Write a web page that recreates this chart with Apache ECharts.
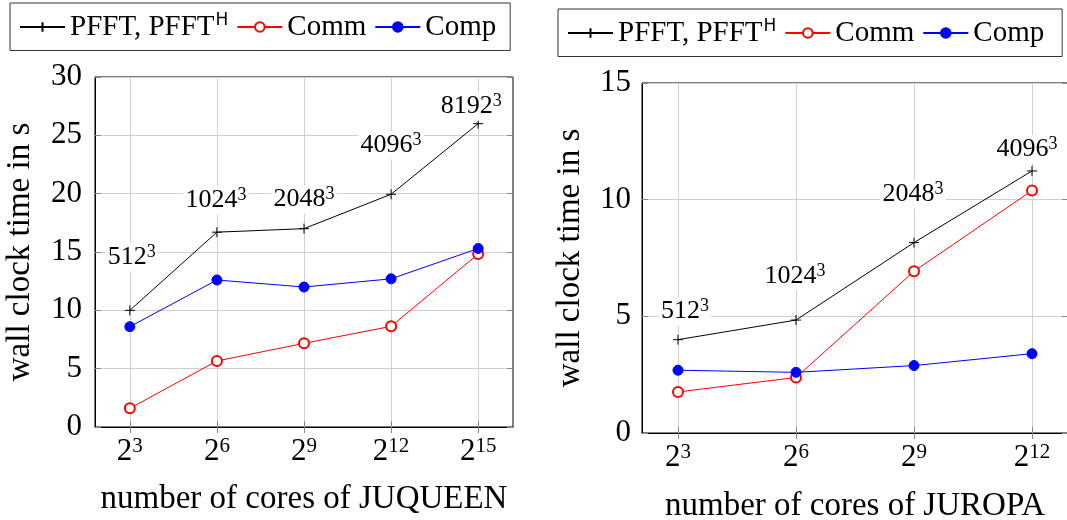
<!DOCTYPE html>
<html>
<head>
<meta charset="utf-8">
<script src="https://cdn.jsdelivr.net/npm/echarts@6/dist/echarts.min.js"></script>
<style>
  html, body { margin: 0; padding: 0; background: #fff; }
  #chart { width: 1067px; height: 520px; }
</style>
</head>
<body>
<div id="chart"></div>
<script>
// Wall clock times of the parallel FFT runs (log2 of core count on x)
const coresExpJuqueen = [3, 6, 9, 12, 15];
const pfftJuqueen = [10.0, 16.7, 17.0, 19.95, 26.0];
const commJuqueen = [1.6, 5.66, 7.17, 8.63, 14.83];
const compJuqueen = [8.6, 12.6, 12.0, 12.7, 15.3];
const sizeJuqueen = ['512', '1024', '2048', '4096', '8192'];

const coresExpJuropa = [3, 6, 9, 12];
const pfftJuropa = [4.0, 4.84, 8.16, 11.23];
const commJuropa = [1.76, 2.38, 6.93, 10.39];
const compJuropa = [2.69, 2.6, 2.89, 3.40];
const sizeJuropa = ['512', '1024', '2048', '4096'];

// pixel offsets of the problem-size annotations from their points
const sizeOffsetJuqueen = [[2, -53], [-1, -32], [0, -29], [0, -49], [-7, -17]];
const sizeOffsetJuropa = [[7, -28], [-1, -44], [-1, -48], [-5, -22]];

const SERIF = '"Liberation Serif", "DejaVu Serif", serif';
const PLUS = 'path://M0,5L10,5M5,0L5,10';

const chart = echarts.init(document.getElementById('chart'), null, { renderer: 'canvas' });

const pairs = (xs, ys) => xs.map((x, i) => [x, ys[i]]);

function xAxes(gridIndex, exps, min, max, name, nameGap) {
  const base = {
    type: 'value', gridIndex, min, max,
    axisTick: { show: true, inside: true, length: 6, customValues: exps, lineStyle: { color: '#888' } },
    axisLabel: { show: false, customValues: exps },
    splitLine: { show: false },
    axisLine: { show: false }
  };
  return [
    Object.assign({}, base, {
      position: 'bottom',
      name, nameLocation: 'middle', nameGap,
      nameTextStyle: { fontFamily: SERIF, fontSize: 33, color: '#000' },
      axisLine: { show: true, lineStyle: { color: '#000', width: 1 } },
      splitLine: { show: true, lineStyle: { color: '#d0d0d0', width: 1 } },
      axisLabel: {
        show: true, customValues: exps, margin: 9,
        formatter: v => '{b|2}{s|' + v + '}',
        rich: {
          b: { fontFamily: SERIF, fontSize: 31, color: '#000', lineHeight: 32 },
          s: { fontFamily: SERIF, fontSize: 21, color: '#000', verticalAlign: 'top', lineHeight: 22, padding: [0, 0, 12, 0] }
        }
      }
    }),
    Object.assign({}, base, { position: 'top' })
  ];
}

function yAxes(gridIndex, max, name, nameGap, margin) {
  const base = {
    type: 'value', gridIndex, min: 0, max, interval: 5,
    axisTick: { show: true, inside: true, length: 6, lineStyle: { color: '#888' } },
    axisLabel: { show: false },
    splitLine: { show: false },
    axisLine: { show: false }
  };
  return [
    Object.assign({}, base, {
      position: 'left',
      name, nameLocation: 'middle', nameGap,
      nameTextStyle: { fontFamily: SERIF, fontSize: 33, color: '#000' },
      axisLine: { show: true, lineStyle: { color: '#000', width: 1 } },
      splitLine: { show: true, lineStyle: { color: '#d0d0d0', width: 1 } },
      axisLabel: { show: true, margin, fontFamily: SERIF, fontSize: 31, color: '#000' }
    }),
    Object.assign({}, base, { position: 'right' })
  ];
}

function lineSeries(name, xIdx, yIdx, data, color, symbol, size) {
  return {
    name, type: 'line', xAxisIndex: xIdx, yAxisIndex: yIdx,
    data, symbol, symbolSize: size, showSymbol: true,
    lineStyle: { color, width: 1 },
    itemStyle: { color, borderColor: color, borderWidth: 1 },
    emphasis: { disabled: true },
    z: 3
  };
}

function sizeSeries(xIdx, yIdx, xs, ys, names, offsets) {
  return {
    type: 'scatter', xAxisIndex: xIdx, yAxisIndex: yIdx,
    symbolSize: 0, silent: true, z: 10,
    itemStyle: { opacity: 1 },
    data: xs.map((x, i) => ({
      value: [x, ys[i]],
      label: { offset: offsets[i] }
    })),
    label: {
      show: true, position: 'inside', color: '#000',
      fontFamily: SERIF, fontSize: 26,
      formatter: p => '{b|' + names[p.dataIndex] + '}{s|3}',
      backgroundColor: '#fff', padding: [0, 2, 0, 2],
      rich: {
        b: { fontFamily: SERIF, fontSize: 26, color: '#000', lineHeight: 28 },
        s: { fontFamily: SERIF, fontSize: 18, color: '#000', verticalAlign: 'top', lineHeight: 18, padding: [0, 0, 8, 0] }
      }
    }
  };
}

function legend(left, top, rightPad) {
  return {
    left, top,
    orient: 'horizontal',
    data: ['PFFT', 'Comm', 'Comp'],
    itemWidth: 45, itemHeight: 12, itemGap: 8,
    padding: [9, rightPad, 9, 9],
    borderColor: '#333', borderWidth: 1, backgroundColor: '#fff',
    selectedMode: false,
    formatter: n => n === 'PFFT' ? '{t|PFFT, PFFT}{h|H}' : '{t|' + n + '}',
    textStyle: {
      fontFamily: SERIF, fontSize: 29, color: '#000',
      rich: {
        t: { fontFamily: SERIF, fontSize: 29, color: '#000', lineHeight: 30 },
        h: { fontFamily: '"DejaVu Sans", sans-serif', fontSize: 17, color: '#000', verticalAlign: 'top', lineHeight: 17, padding: [0, 0, 12, 1] }
      }
    }
  };
}

const option = {
  backgroundColor: '#fff',
  animation: false,
  legend: [legend(10, 3, 14), legend(558, 9, 18)],
  grid: [
    { left: 95, top: 77, width: 418, height: 350, show: true, borderColor: '#000', borderWidth: 1, containLabel: false, outerBoundsMode: 'none' },
    { left: 642, top: 83, width: 426, height: 350, show: true, borderColor: '#000', borderWidth: 1, containLabel: false, outerBoundsMode: 'none' }
  ],
  xAxis: [
    ...xAxes(0, coresExpJuqueen, 1.8, 16.2, 'number of cores of JUQUEEN', 56),
    ...xAxes(1, coresExpJuropa, 2.085, 12.915, 'number of cores of JUROPA', 57)
  ],
  yAxis: [
    ...yAxes(0, 30, 'wall clock time in s', 58, 13),
    ...yAxes(1, 15, 'wall clock time in s', 55, 11)
  ],
  series: [
    lineSeries('PFFT', 0, 0, pairs(coresExpJuqueen, pfftJuqueen), '#000', PLUS, 10),
    lineSeries('Comm', 0, 0, pairs(coresExpJuqueen, commJuqueen), '#ff0000', 'emptyCircle', 10),
    lineSeries('Comp', 0, 0, pairs(coresExpJuqueen, compJuqueen), '#0000ff', 'circle', 10),
    sizeSeries(0, 0, coresExpJuqueen, pfftJuqueen, sizeJuqueen, sizeOffsetJuqueen),
    lineSeries('PFFT', 2, 2, pairs(coresExpJuropa, pfftJuropa), '#000', PLUS, 10),
    lineSeries('Comm', 2, 2, pairs(coresExpJuropa, commJuropa), '#ff0000', 'emptyCircle', 10),
    lineSeries('Comp', 2, 2, pairs(coresExpJuropa, compJuropa), '#0000ff', 'circle', 10),
    sizeSeries(2, 2, coresExpJuropa, pfftJuropa, sizeJuropa, sizeOffsetJuropa)
  ]
};

chart.setOption(option);
</script>
</body>
</html>
